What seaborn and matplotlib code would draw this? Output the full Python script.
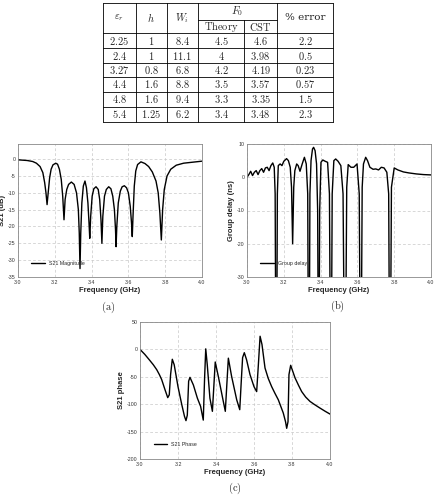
import matplotlib
matplotlib.use("Agg")
import matplotlib.pyplot as plt
import seaborn as sns
import pandas as pd

# ---- table data ----
eps_r = ["2.25", "2.4", "3.27", "4.4", "4.8", "5.4"]
h_vals = ["1", "1", "0.8", "1.6", "1.6", "1.25"]
w_vals = ["8.4", "11.1", "6.8", "8.8", "9.4", "6.2"]
f0_theory = ["4.5", "4", "4.2", "3.5", "3.3", "3.4"]
f0_cst = ["4.6", "3.98", "4.19", "3.57", "3.35", "3.48"]
pct_error = ["2.2", "0.5", "0.23", "0.57", "1.5", "2.3"]

# ---- (a) S21 magnitude ----
freq_a = [3.00, 3.05, 3.08, 3.10, 3.12, 3.135, 3.145, 3.152, 3.158, 3.164, 3.172, 3.18, 3.19,
          3.205, 3.215, 3.225, 3.235, 3.243, 3.25, 3.256, 3.265, 3.275, 3.29, 3.305, 3.318,
          3.328, 3.333, 3.337, 3.341, 3.347, 3.355, 3.364, 3.372, 3.38, 3.386, 3.39, 3.395,
          3.403, 3.412, 3.424, 3.436, 3.444, 3.451, 3.456, 3.461, 3.47, 3.48, 3.493, 3.505,
          3.515, 3.524, 3.53, 3.533, 3.537, 3.545, 3.556, 3.566, 3.578, 3.59, 3.60, 3.61,
          3.617, 3.621, 3.625, 3.632, 3.64, 3.65, 3.668, 3.69, 3.71, 3.73, 3.75, 3.762,
          3.771, 3.779, 3.786, 3.795, 3.81, 3.83, 3.86, 3.90, 3.95, 4.00]
s21_mag = [-0.2, -0.4, -0.7, -1.2, -2.2, -4.0, -7, -10, -13.5, -10, -5.5, -3.0, -1.7,
           -1.2, -1.5, -3, -6, -11, -18, -12, -9, -7.5, -6.8, -7.5, -10,
           -15, -22, -32.5, -22, -13, -8, -6.5, -8.5, -13, -19, -23.5, -17,
           -11, -8.8, -8.2, -9, -12, -18, -25, -17, -11, -9, -8.2, -8.8,
           -11, -15, -21, -26, -20, -13, -9.5, -8.2, -7.9, -8.5, -10, -14,
           -19, -23, -17, -8, -3.5, -1.6, -0.8, -1.3, -2.2, -3.8, -6.5, -10,
           -16, -24, -15, -9, -5, -3, -1.8, -1.2, -0.9, -0.6]

# ---- (b) group delay ----
freq_b = [3.000, 3.010, 3.020, 3.030, 3.040, 3.050, 3.060, 3.070, 3.080, 3.090, 3.100, 3.110,
          3.120, 3.130, 3.140, 3.148, 3.153, 3.157, 3.161, 3.165, 3.170, 3.180, 3.190, 3.200,
          3.215, 3.225, 3.235, 3.242, 3.248, 3.254, 3.260, 3.270, 3.278, 3.288, 3.300, 3.312,
          3.322, 3.330, 3.334, 3.338, 3.342, 3.348, 3.356, 3.362, 3.370, 3.378, 3.384, 3.388,
          3.391, 3.395, 3.402, 3.412, 3.425, 3.438, 3.448, 3.454, 3.458, 3.463, 3.472, 3.482,
          3.495, 3.510, 3.522, 3.530, 3.535, 3.542, 3.550, 3.565, 3.580, 3.598, 3.610, 3.616,
          3.620, 3.626, 3.633, 3.645, 3.655, 3.668, 3.685, 3.700, 3.715, 3.730, 3.745, 3.760,
          3.770, 3.775, 3.779, 3.785, 3.800, 3.820, 3.850, 3.880, 3.920, 3.960, 4.000]
group_delay = [0.0, 0.8, 1.8, 0.5, 1.5, 2.0, 0.8, 2.0, 2.6, 1.5, 2.8, 3.0,
               2.0, 3.5, 4.3, 3.0, -5, -60, -60, -5, 3.5, 4.0, 3.5, 4.8,
               5.6, 5.0, 3.0, -3, -20, -3, 2.0, 4.0, 3.5, 1.8, 4.0, 6.0,
               4.0, -5, -60, -60, -5, 5.0, 8.5, 9.0, 8.0, 4.0, -10, -60,
               -60, -10, 4.5, 5.2, 4.8, 4.5, -5, -60, -60, -5, 5.0, 5.5,
               4.8, 3.5, -5, -60, -60, -3, 3.8, 3.0, 3.0, 4.0, -5, -60,
               -60, -3, 4.0, 6.0, 5.0, 3.0, 2.4, 2.5, 2.2, 3.0, 2.8, 1.5,
               -5, -60, -60, -3, 2.8, 2.2, 1.6, 1.3, 1.0, 0.8, 0.7]

# ---- (c) S21 phase ----
freq_c = [3.000, 3.025, 3.049, 3.070, 3.088, 3.102, 3.114, 3.132, 3.146, 3.154, 3.161, 3.170,
          3.180, 3.200, 3.220, 3.234, 3.242, 3.249, 3.256, 3.263, 3.281, 3.302, 3.319, 3.333,
          3.340, 3.346, 3.354, 3.368, 3.381, 3.389, 3.396, 3.412, 3.435, 3.449, 3.458, 3.465,
          3.482, 3.509, 3.525, 3.533, 3.540, 3.549, 3.561, 3.579, 3.600, 3.614, 3.623, 3.632,
          3.642, 3.658, 3.675, 3.693, 3.710, 3.728, 3.754, 3.766, 3.772, 3.779, 3.784, 3.793,
          3.816, 3.835, 3.851, 3.872, 3.895, 3.920, 3.947, 3.975, 4.000]
s21_phase = [0, -9, -19, -28, -37, -46, -55, -74, -88, -83, -46, -18,
             -28, -68, -101, -122, -130, -120, -58, -51, -65, -89, -104, -129,
             -52, 1, -28, -89, -113, -65, -23, -49, -89, -113, -58, -16,
             -49, -92, -110, -58, -15, -6, -19, -46, -68, -77, -28, 24,
             9, -34, -53, -68, -80, -92, -116, -132, -144, -132, -46, -29,
             -52, -66, -77, -87, -95, -101, -107, -113, -118]

W, H = 435, 495
sns.set_style("white")
plt.rcParams["font.family"] = ["Liberation Sans", "DejaVu Sans"]
plt.rcParams["mathtext.fontset"] = "cm"

fig = plt.figure(figsize=(W / 100, H / 100), dpi=100)


def px_axes(left, top, right, bottom):
    return fig.add_axes([left / W, (H - bottom) / H, (right - left) / W, (bottom - top) / H])


def style_axes(ax, ylim, yticks, ylabel, legend_anchor):
    ax.set_xlim(3.0, 4.0)
    ax.set_ylim(*ylim)
    ax.set_xticks([3.0, 3.2, 3.4, 3.6, 3.8, 4.0])
    ax.set_xticklabels(["3.0", "3.2", "3.4", "3.6", "3.8", "4.0"])
    ax.set_yticks(yticks)
    ax.set_yticklabels([str(t) for t in yticks])
    ax.tick_params(labelsize=3.8, length=0, pad=1.8, colors="#333333")
    ax.grid(True, color="#c8c8c8", linestyle=(0, (4, 3)), linewidth=0.5)
    for s in ax.spines.values():
        s.set_color("#888888")
        s.set_linewidth(0.6)
    ax.set_xlabel("Frequency (GHz)", fontsize=5.5, fontweight="bold", labelpad=2)
    ax.set_ylabel(ylabel, fontsize=5.5, fontweight="bold", labelpad=1)
    ax.legend(loc="lower left", bbox_to_anchor=legend_anchor, frameon=False,
              fontsize=3.8, handlelength=2.6, borderaxespad=0)


df_a = pd.DataFrame({"freq": freq_a, "val": s21_mag})
df_b = pd.DataFrame({"freq": freq_b, "val": group_delay})
df_c = pd.DataFrame({"freq": freq_c, "val": s21_phase})

ax_a = px_axes(18, 144, 202, 277)
sns.lineplot(data=df_a, x="freq", y="val", ax=ax_a, color="black", linewidth=1.0,
             label="S21 Magnitude")
style_axes(ax_a, (-35, 4.5), list(range(-35, 1, 5))[::-1], "S21 (dB)", (0.06, 0.07))

ax_b = px_axes(247, 144, 431, 277)
sns.lineplot(data=df_b, x="freq", y="val", ax=ax_b, color="black", linewidth=1.0,
             label="Group delay")
style_axes(ax_b, (-30, 10), [10, 0, -10, -20, -30], "Group delay (ns)", (0.06, 0.07))

ax_c = px_axes(140, 322, 330, 459)
sns.lineplot(data=df_c, x="freq", y="val", ax=ax_c, color="black", linewidth=1.0,
             label="S21 Phase")
style_axes(ax_c, (-200, 50), [50, 0, -50, -100, -150, -200], "S21 phase", (0.06, 0.07))

# overlay in pixel coordinates for the table and captions
ov = fig.add_axes([0, 0, 1, 1])
ov.set_xlim(0, W)
ov.set_ylim(H, 0)
ov.axis("off")
ov.patch.set_alpha(0)

col_x = [102.7, 135.7, 166.7, 197.7, 244.3, 276.7, 333.3]
row_y = [3.3, 33.3, 48.3, 63.3, 77.3, 91.7, 106.7, 121.7]
lw = 0.6
for y in row_y:
    ov.plot([col_x[0], col_x[-1]], [y, y], color="black", linewidth=lw)
ov.plot([col_x[3], col_x[5]], [20, 20], color="black", linewidth=lw)
for i, x in enumerate(col_x):
    y0 = 20 if i == 4 else row_y[0]
    ov.plot([x, x], [y0, row_y[-1]], color="black", linewidth=lw)

fs = 7.5
cx = [(col_x[i] + col_x[i + 1]) / 2 for i in range(6)]
ov.text(cx[0], 18, r"$\varepsilon_r$", fontsize=fs, ha="center", va="center")
ov.text(cx[1], 18, r"$h$", fontsize=fs, ha="center", va="center")
ov.text(cx[2], 18, r"$W_i$", fontsize=fs, ha="center", va="center")
ov.text((col_x[3] + col_x[5]) / 2, 11.5, r"$F_0$", fontsize=fs, ha="center", va="center")
ov.text(cx[3], 27, r"$\mathrm{Theory}$", fontsize=fs, ha="center", va="center")
ov.text(cx[4], 27, r"$\mathrm{CST}$", fontsize=fs, ha="center", va="center")
ov.text(cx[5], 18, "% error", fontsize=fs, ha="center", va="center",
        family=["DejaVu Serif"])

columns = [eps_r, h_vals, w_vals, f0_theory, f0_cst, pct_error]
for r in range(6):
    yc = (row_y[r + 1] + row_y[r + 2]) / 2
    for c, col in enumerate(columns):
        ov.text(cx[c], yc, r"$\mathrm{" + col[r] + "}$", fontsize=fs, ha="center", va="center")

ov.text(108, 307, r"$\mathrm{(a)}$", fontsize=7.5, ha="center", va="center")
ov.text(337, 306, r"$\mathrm{(b)}$", fontsize=7.5, ha="center", va="center")
ov.text(235, 488, r"$\mathrm{(c)}$", fontsize=7.5, ha="center", va="center")

fig.savefig("out.png", dpi=100)
